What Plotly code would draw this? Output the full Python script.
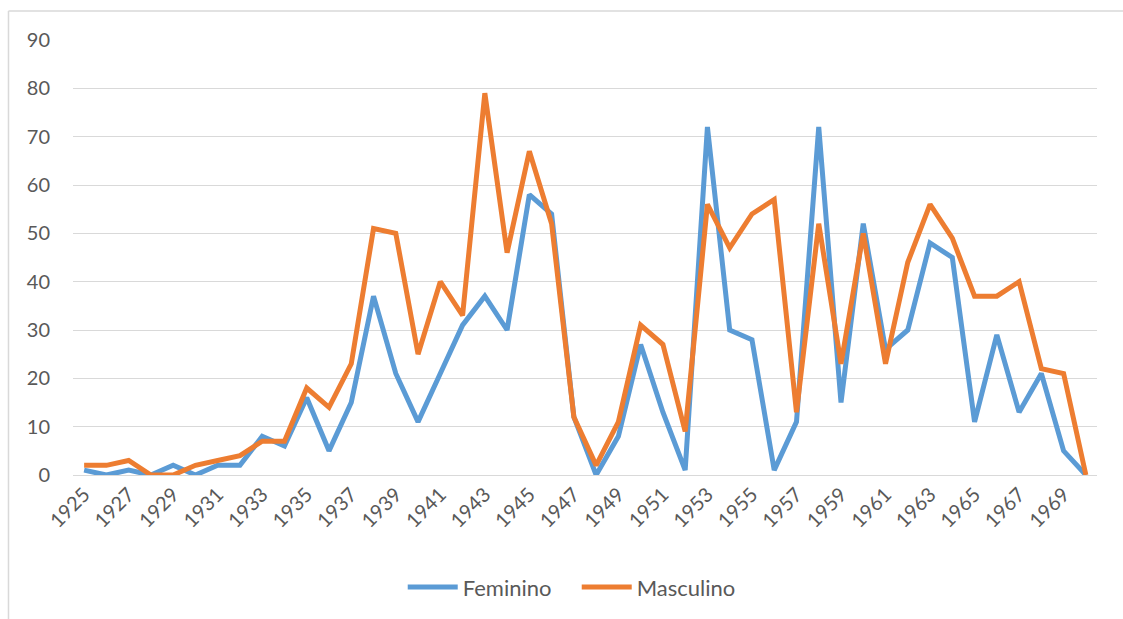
import plotly.graph_objects as go

years = list(range(1925, 1971))

feminino = [1, 0, 1, 0, 2, 0, 2, 2, 8, 6,
            16, 5, 15, 37, 21, 11, 21, 31, 37, 30,
            58, 54, 12, 0, 8, 27, 13, 1, 72, 30,
            28, 1, 11, 72, 15, 52, 26, 30, 48, 45,
            11, 29, 13, 21, 5, 0]

masculino = [2, 2, 3, 0, 0, 2, 3, 4, 7, 7,
             18, 14, 23, 51, 50, 25, 40, 33, 79, 46,
             67, 52, 12, 2, 11, 31, 27, 9, 56, 47,
             54, 57, 13, 52, 23, 50, 23, 44, 56, 49,
             37, 37, 40, 22, 21, 0]

y_ticks = list(range(0, 100, 10))
x_ticks = years[::2]

font_family = "Lato, 'Open Sans', sans-serif"
text_grey = "#595959"
grid_grey = "#D9D9D9"

fig = go.Figure()
fig.add_trace(go.Scatter(x=years, y=feminino, name="Feminino", mode="lines",
                         line=dict(color="#5B9BD5", width=5)))
fig.add_trace(go.Scatter(x=years, y=masculino, name="Masculino", mode="lines",
                         line=dict(color="#ED7D31", width=5)))

fig.update_layout(
    width=1123, height=619,
    margin=dict(l=73, r=26, t=40, b=143),
    paper_bgcolor="white", plot_bgcolor="white",
    font=dict(family=font_family, color=text_grey, size=20),
    showlegend=True,
    legend=dict(orientation="h", x=0.322, xanchor="left", y=-0.255, yanchor="middle",
                font=dict(size=22, color=text_grey), itemwidth=50,
                entrywidth=109, entrywidthmode="pixels"),
    xaxis=dict(range=[1924.5, 1970.5], tickmode="array", tickvals=x_ticks,
               ticktext=[str(v) for v in x_ticks], tickangle=-45,
               showgrid=False, zeroline=False, showline=False,
               ticks="", ticklabelstandoff=3, tickfont=dict(size=20, color=text_grey)),
    yaxis=dict(range=[0, 90], tickmode="array", tickvals=y_ticks,
               showgrid=True, gridcolor=grid_grey, gridwidth=1.3,
               zeroline=True, zerolinecolor=grid_grey, zerolinewidth=1.3,
               showline=False, ticks="", ticklabelstandoff=22,
               tickfont=dict(size=20, color=text_grey)),
    shapes=[
        dict(type="line", xref="paper", yref="paper",
             x0=-0.063, x1=-0.063, y0=1.0665, y1=-0.36,
             line=dict(color=grid_grey, width=1.5)),
        dict(type="line", xref="paper", yref="paper",
             x0=-0.063, x1=1.04, y0=1.0665, y1=1.0665,
             line=dict(color=grid_grey, width=1.5)),
    ],
)

fig.write_html("out.html")
